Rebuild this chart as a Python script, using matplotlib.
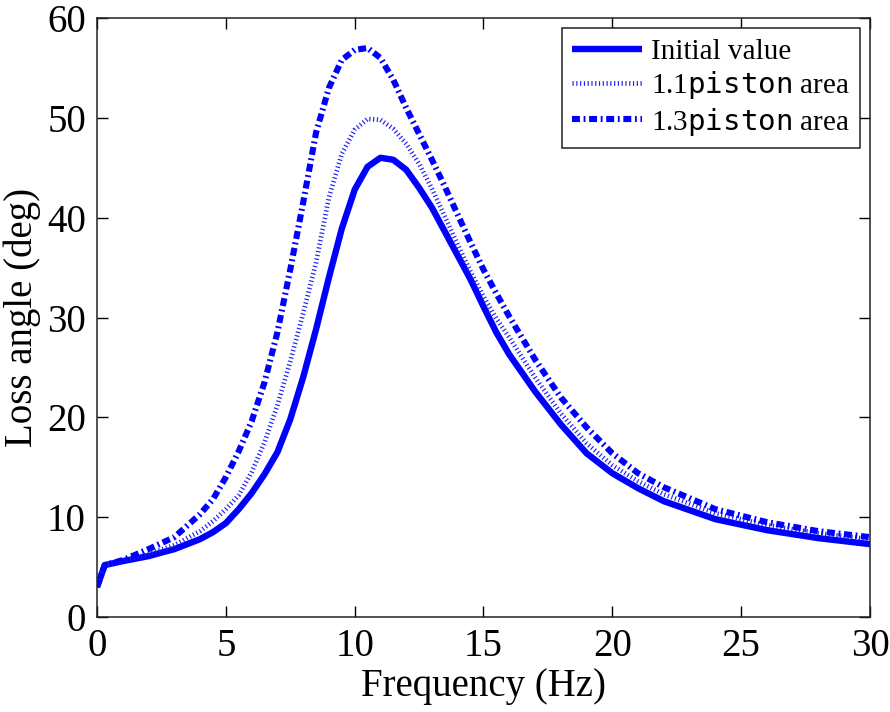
import matplotlib
matplotlib.use("Agg")
import matplotlib.pyplot as plt

plt.rcParams['font.family'] = ['Liberation Serif', 'DejaVu Serif']
plt.rcParams['mathtext.fontset'] = 'custom'
plt.rcParams['mathtext.rm'] = 'Liberation Serif'
plt.rcParams['mathtext.tt'] = 'DejaVu Sans Mono'

# frequency (Hz) and loss angle (deg)
freq = [0, 0.3, 1, 2, 3, 4, 4.5, 5, 5.5, 6, 6.5, 7, 7.5, 8, 8.5, 9, 9.5, 10,
        10.5, 11, 11.5, 12, 12.5, 13, 13.5, 14, 14.5, 15, 15.5, 16, 17, 18, 19,
        20, 21, 22, 24, 26, 28, 30]
initial = [3.0, 5.2, 5.6, 6.1, 6.8, 7.8, 8.5, 9.4, 10.8, 12.4, 14.3, 16.5, 19.8,
           24.0, 28.8, 34.0, 38.9, 42.8, 45.1, 46.0, 45.8, 44.8, 43.0, 41.0, 38.6,
           36.2, 33.8, 31.1, 28.5, 26.3, 22.6, 19.3, 16.4, 14.4, 12.9, 11.6, 9.8,
           8.7, 7.9, 7.3]
piston_11 = [3.0, 5.2, 5.6, 6.3, 7.2, 8.6, 9.6, 10.8, 12.2, 14.5, 17.5, 21.2, 25.6,
             30.4, 35.5, 42.0, 46.4, 48.8, 49.9, 49.8, 48.9, 47.4, 45.4, 42.9, 40.1,
             37.3, 34.6, 32.1, 29.9, 28.0, 24.0, 20.4, 17.4, 15.2, 13.6, 12.3, 10.4,
             9.2, 8.4, 7.8]
piston_13 = [3.0, 5.2, 5.7, 6.8, 8.0, 10.3, 11.8, 14.0, 16.6, 19.6, 23.5, 28.5, 34.8,
             41.5, 48.5, 53.0, 55.8, 56.8, 57.0, 56.0, 53.8, 51.0, 48.4, 45.8, 43.1,
             40.3, 37.5, 34.8, 32.4, 30.1, 25.8, 22.0, 19.0, 16.4, 14.4, 13.0, 10.8,
             9.5, 8.6, 8.0]

fig = plt.figure(figsize=(8.9, 7.12), dpi=100)
ax = fig.add_axes([0.109, 0.1334, 0.8685, 0.8413])

ax.plot(freq, initial, color='#0000ff', lw=4.6, solid_capstyle='butt',
        solid_joinstyle='round', label='Initial value')
ax.plot(freq, piston_11, color='#2020f0', lw=3.4, linestyle=(0, (0.25, 0.55)),
        dash_capstyle='butt', label=r'1.1$\mathtt{piston}$ area')
ax.plot(freq, piston_13, color='#0000ff', lw=4.4, linestyle=(0, (1.3, 0.6, 0.3, 0.6)),
        dash_capstyle='butt', label=r'1.3$\mathtt{piston}$ area')

ax.set_xlim(0, 30)
ax.set_ylim(0, 60)
ax.set_xticks([0, 5, 10, 15, 20, 25, 30])
ax.set_yticks([0, 10, 20, 30, 40, 50, 60])
ax.tick_params(direction='in', length=8, width=1, labelsize=28,
               top=True, right=True, pad=8)
for s in ax.spines.values():
    s.set_linewidth(1.1)
    s.set_color('#222222')

ax.set_xlabel('Frequency (Hz)', fontsize=28, labelpad=2)
ax.set_ylabel('Loss angle (deg)', fontsize=28, labelpad=4)

leg = ax.legend(loc='upper right', fontsize=21, handlelength=2.4,
                borderaxespad=0.35, fancybox=False, framealpha=1,
                borderpad=0.35, labelspacing=0.15, handletextpad=0.3)
leg.get_frame().set_edgecolor('#222222')
leg.get_frame().set_linewidth(1.1)

fig.savefig('out.png', dpi=100)
